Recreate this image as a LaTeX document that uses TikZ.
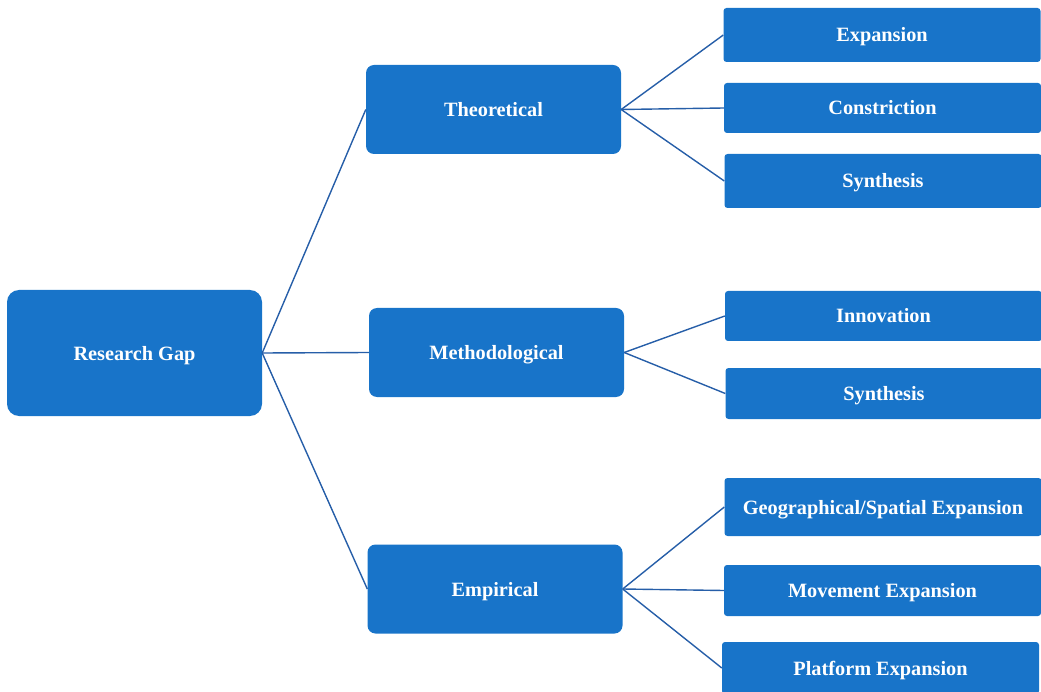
\documentclass[tikz,border=0pt]{standalone}
\usepackage{fontspec}
\setmainfont{Liberation Serif}
\usepackage{xcolor}
\definecolor{gapblue}{RGB}{24,116,201}
\definecolor{linkblue}{RGB}{38,94,168}

\begin{document}
\begin{tikzpicture}[x=1pt,y=-1pt,
 box/.style={fill=gapblue, text=white, font=\bfseries\fontsize{20.3}{24}\selectfont, anchor=center, inner sep=0pt, text height=14pt, text depth=0pt},
 root/.style={box, minimum width=255pt, minimum height=126pt, rounded corners=12pt},
 mid/.style={box, minimum width=255pt, minimum height=89pt, rounded corners=8pt},
 leaf/.style={box, minimum width=317pt, minimum height=52pt, rounded corners=3pt},
 link/.style={draw=linkblue, line width=1.4pt}]
\clip (0,0) rectangle (1041,692);
% root and the three gap types
\node[root] (gap) at (134.5,353) {Research Gap};
\node[mid] (theo) at (493.5,109.5) {Theoretical};
\node[mid] (meth) at (496.5,352.5) {Methodological};
\node[mid] (emp) at (495,589) {Empirical};
% leaves
\node[leaf, minimum height=54pt] (expa) at (882,35) {Expansion};
\node[leaf, minimum height=50pt] (cons) at (882.5,108) {Constriction};
\node[leaf, minimum height=54pt] (synt) at (883,181) {Synthesis};
\node[leaf, minimum height=50pt] (inno) at (883.5,316) {Innovation};
\node[leaf, minimum height=51pt] (synm) at (884,393.5) {Synthesis};
\node[leaf, minimum height=58pt] (geo) at (883,507) {Geographical/Spatial Expansion};
\node[leaf, minimum height=51pt] (move) at (882.5,590.5) {Movement Expansion};
\node[leaf, minimum height=52pt] (plat) at (880.5,668) {Platform Expansion};
% connectors
\foreach \b in {theo,meth,emp}
  \draw[link] (gap.east) -- (\b.west);
\foreach \b in {expa,cons,synt}
  \draw[link] (theo.east) -- (\b.west);
\foreach \b in {inno,synm}
  \draw[link] (meth.east) -- (\b.west);
\foreach \b in {geo,move,plat}
  \draw[link] (emp.east) -- (\b.west);
\end{tikzpicture}
\end{document}
